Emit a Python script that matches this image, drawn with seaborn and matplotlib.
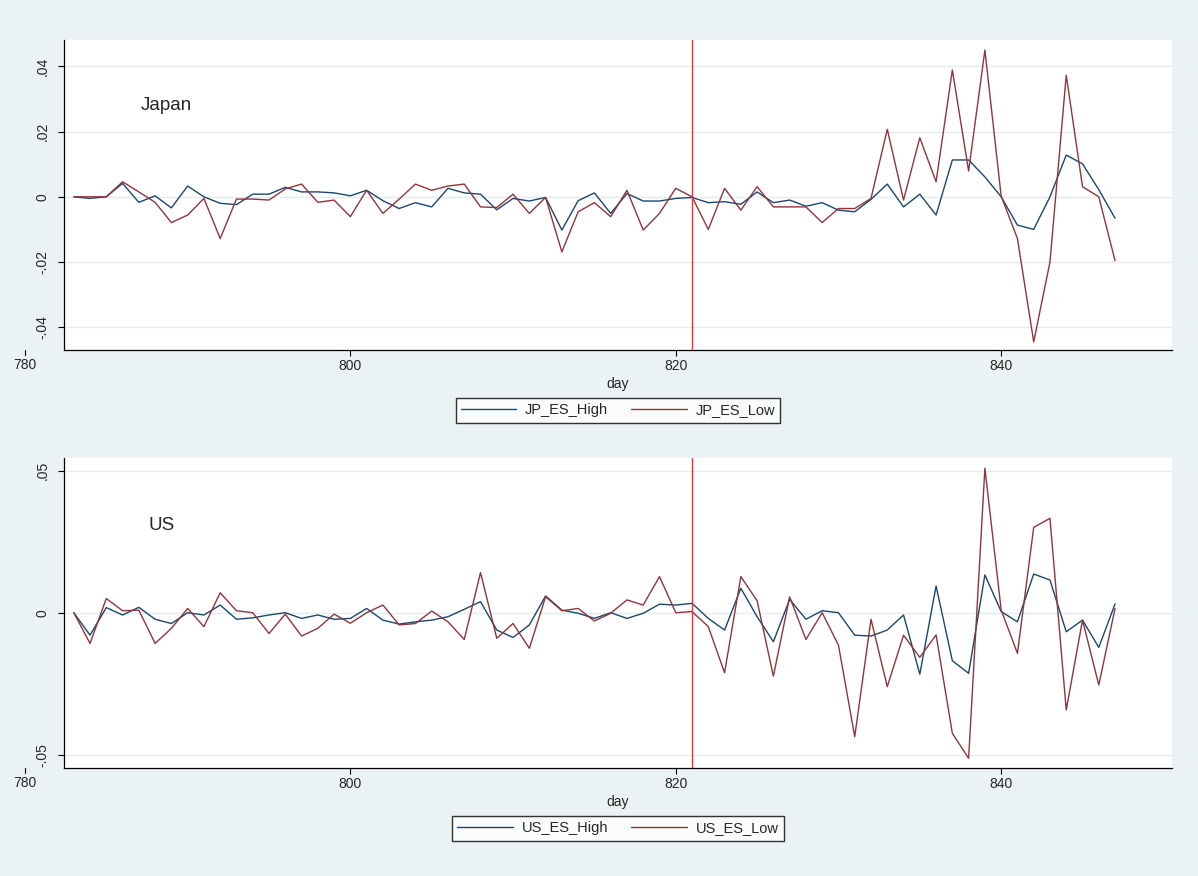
import matplotlib
matplotlib.use("Agg")
import matplotlib.pyplot as plt
import matplotlib.transforms as mtransforms
import numpy as np
import pandas as pd
import seaborn as sns

# data (days 783..847)
days = list(range(783, 848))

jp_es_high = [0.0, -0.0005, 0.0, 0.0041, -0.0017, 0.0003, -0.0034, 0.0033, 0.0, -0.002,
              -0.0024, 0.0008, 0.0008, 0.0029, 0.0015, 0.0015, 0.0012, 0.0003, 0.002, -0.0012,
              -0.0036, -0.0018, -0.0031, 0.0026, 0.0012, 0.0008, -0.004, -0.0005, -0.0013, -0.0002,
              -0.0102, -0.0012, 0.0012, -0.0051, 0.001, -0.0013, -0.0013, -0.0005, -0.0002, -0.0018,
              -0.0015, -0.0023, 0.0015, -0.0018, -0.001, -0.0029, -0.0018, -0.0041, -0.0046, -0.0008,
              0.0039, -0.0031, 0.0008, -0.0056, 0.0113, 0.0113, 0.0061, 0.0, -0.0087, -0.01,
              0.0, 0.0128, 0.0101, 0.0022, -0.0066]
jp_es_low = [0.0, 0.0, 0.0, 0.0046, 0.0015, -0.0017, -0.0079, -0.0056, -0.0005, -0.0128,
             -0.0007, -0.0007, -0.001, 0.0024, 0.0039, -0.0017, -0.001, -0.0061, 0.002, -0.0051,
             -0.0007, 0.0039, 0.002, 0.0033, 0.0039, -0.0031, -0.0033, 0.0008, -0.0051, -0.0002,
             -0.0169, -0.0046, -0.0018, -0.0061, 0.002, -0.0102, -0.0051, 0.0026, 0.0, -0.01,
             0.0026, -0.0041, 0.0031, -0.0031, -0.0031, -0.0031, -0.0079, -0.0036, -0.0036, -0.0005,
             0.0207, -0.001, 0.0181, 0.0046, 0.0389, 0.0079, 0.045, 0.0002, -0.0128, -0.0445,
             -0.02, 0.0373, 0.0031, 0.0, -0.0196]
us_es_high = [0.0, -0.0079, 0.0018, -0.0008, 0.0019, -0.0023, -0.0038, 0.0, -0.0008, 0.0027,
              -0.0023, -0.0018, -0.0008, 0.0, -0.002, -0.0008, -0.0023, -0.002, 0.0015, -0.0026,
              -0.004, -0.0032, -0.0026, -0.0014, 0.0012, 0.0039, -0.0061, -0.0087, -0.0043, 0.0059,
              0.0009, -0.0002, -0.002, 0.0, -0.002, -0.0002, 0.003, 0.0027, 0.0033, -0.002,
              -0.0061, 0.0086, -0.0014, -0.0102, 0.0047, -0.0023, 0.0007, 0.0, -0.0079, -0.0082,
              -0.0061, -0.0008, -0.0216, 0.0094, -0.0169, -0.0213, 0.0133, 0.0004, -0.0032, 0.0136,
              0.0115, -0.0067, -0.0026, -0.0122, 0.0031]
us_es_low = [0.0, -0.0108, 0.005, 0.0007, 0.0009, -0.0108, -0.0055, 0.0015, -0.0049, 0.007,
             0.0007, 0.0, -0.0073, -0.0005, -0.0082, -0.0055, -0.0005, -0.0037, 0.0, 0.0027,
             -0.0043, -0.0038, 0.0006, -0.0032, -0.0094, 0.0141, -0.009, -0.0038, -0.0125, 0.0056,
             0.0007, 0.0015, -0.0029, -0.0002, 0.0045, 0.0027, 0.0127, 0.0, 0.0004, -0.0049,
             -0.0211, 0.0127, 0.0042, -0.0223, 0.0056, -0.0094, 0.0, -0.0114, -0.0436, -0.0023,
             -0.026, -0.0079, -0.0157, -0.0078, -0.0424, -0.0512, 0.0508, 0.001, -0.0143, 0.03,
             0.0332, -0.0342, -0.0026, -0.0254, 0.0015]

event_day = 821
x_ticks = [800, 820, 840]
jp_yticks = [-0.04, -0.02, 0.0, 0.02, 0.04]
jp_ylabels = ["-.04", "-.02", "0", ".02", ".04"]
us_yticks = [-0.05, 0.0, 0.05]
us_ylabels = ["-.05", "0", ".05"]

NAVY = "#1A476F"
MAROON = "#90353B"
BG = "#EAF2F3"
GRID = "#E3ECEE"

sns.set_style("white")
plt.rcParams["font.family"] = ["Liberation Sans", "DejaVu Sans"]

fig = plt.figure(figsize=(11.98, 8.76), dpi=100)
fig.patch.set_facecolor(BG)

W, H = 1198.0, 876.0
ax_top = fig.add_axes([64 / W, 1 - 350 / H, 1108 / W, 310 / H])
ax_bot = fig.add_axes([64 / W, 1 - 768 / H, 1108 / W, 310 / H])


def draw_panel(ax, high, low, names, title, yticks, ylabels, ylim, title_y):
    df = pd.DataFrame({"day": days, names[0]: high, names[1]: low})
    long = df.melt(id_vars="day", var_name="series", value_name="value")
    sns.lineplot(data=long, x="day", y="value", hue="series",
                 palette=[NAVY, MAROON], linewidth=1.0, estimator=None,
                 errorbar=None, ax=ax)
    ax.axvline(event_day, color="#FF2A2A", linewidth=1.0, zorder=3)

    ax.set_xlim(782.4, 850.5)
    ax.set_ylim(*ylim)
    ax.set_xticks(x_ticks)
    ax.set_xticklabels([str(t) for t in x_ticks], fontsize=10)
    ax.set_yticks(yticks)
    ax.set_yticklabels(ylabels, fontsize=10, rotation=90, va="center")
    ax.yaxis.grid(True, color=GRID, linewidth=1.0)
    ax.xaxis.grid(False)
    ax.set_axisbelow(True)
    ax.tick_params(axis="both", direction="out", length=4.5, width=0.8,
                   color="black", bottom=True, left=True)
    ax.tick_params(axis="x", pad=2)
    ax.tick_params(axis="y", pad=6)
    for s in ["top", "right"]:
        ax.spines[s].set_visible(False)
    for s in ["left", "bottom"]:
        ax.spines[s].set_color("black")
        ax.spines[s].set_linewidth(0.9)
    ax.set_facecolor("white")
    ax.set_xlabel("day", fontsize=10, labelpad=3)
    ax.set_ylabel("")

    # the 780 tick sits to the left of the plot region, as in the original
    trans = mtransforms.blended_transform_factory(ax.transData, ax.transAxes)
    ax.plot([780, 780], [0, -0.016], transform=trans, color="black",
            linewidth=0.8, clip_on=False)
    ax.annotate("780", xy=(780, 0), xycoords=trans, xytext=(0, -6),
                textcoords="offset points", ha="center", va="top",
                fontsize=10, annotation_clip=False)

    ax.text(title[1], title_y, title[0], fontsize=13.5, ha="left", va="center")

    sns.move_legend(ax, "center", bbox_to_anchor=(0.5, -0.195), ncol=2,
                    title=None, frameon=True, fancybox=False, fontsize=10.5,
                    handlelength=3.8, handletextpad=0.6, columnspacing=1.6,
                    borderpad=0.35, edgecolor="black")
    leg = ax.get_legend()
    leg.get_frame().set_linewidth(1.0)
    leg.get_frame().set_facecolor("white")
    for line in leg.get_lines():
        line.set_linewidth(1.0)


draw_panel(ax_top, jp_es_high, jp_es_low, ["JP_ES_High", "JP_ES_Low"],
           ("Japan", 787.1), jp_yticks, jp_ylabels, (-0.047, 0.0481), 0.028)
draw_panel(ax_bot, us_es_high, us_es_low, ["US_ES_High", "US_ES_Low"],
           ("US", 787.6), us_yticks, us_ylabels, (-0.0546, 0.0544), 0.0305)

fig.savefig("out.png", dpi=100, facecolor=BG)
